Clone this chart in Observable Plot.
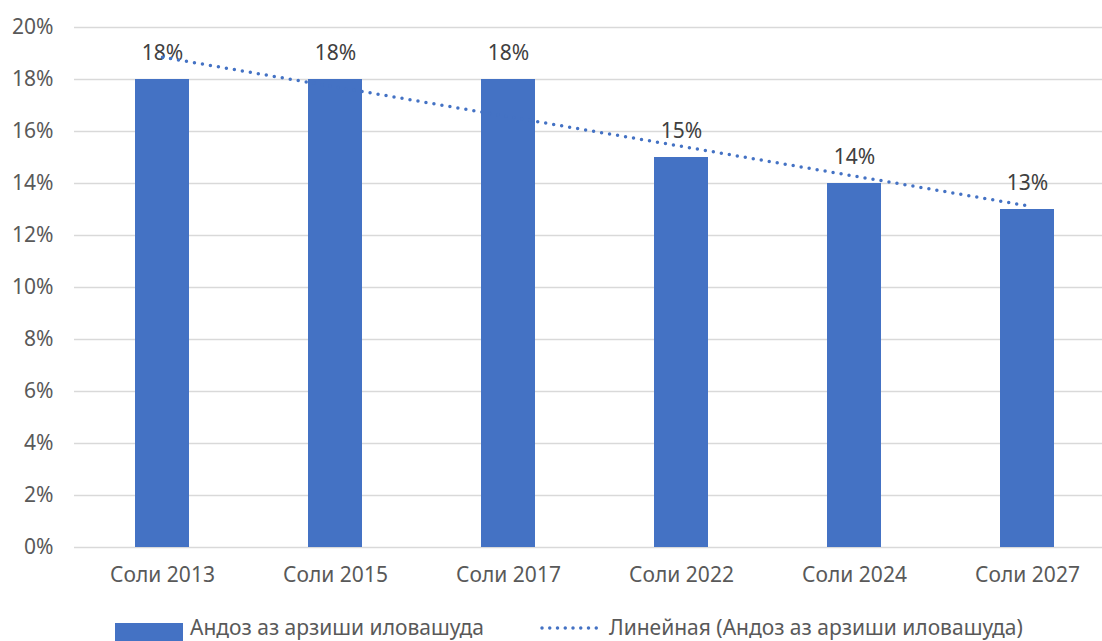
<!DOCTYPE html>
<html>
<head>
<meta charset="utf-8">
<script src="https://cdn.jsdelivr.net/npm/d3@7"></script>
<script src="https://cdn.jsdelivr.net/npm/@observablehq/plot@0.6"></script>
<style>
  html, body { margin: 0; padding: 0; background: #fff; }
  body { width: 1102px; height: 641px; overflow: hidden; position: relative; font-family: "Noto Sans", sans-serif; }
  #legend { position: absolute; left: 0; top: 605px; width: 1102px; height: 36px; color: #595959; font-size: 21px; }
  .sw-bar { position: absolute; left: 115px; top: 18px; width: 68px; height: 18px; background: #4472C4; }
  .lbl { position: absolute; top: 9px; line-height: 26px; white-space: nowrap; }
  .sw-line { position: absolute; left: 540px; top: 15px; }
</style>
</head>
<body>
<div id="chart"></div>
<div id="legend">
  <div class="sw-bar"></div>
  <div class="lbl" id="l1" style="left:190px"></div>
  <svg class="sw-line" width="68" height="16"><line x1="2" y1="8" x2="64" y2="8" stroke="#4472C4" stroke-width="3.5" stroke-linecap="round" stroke-dasharray="0,7.75"/></svg>
  <div class="lbl" id="l2" style="left:609px"></div>
</div>
<script>
const categories = ["Соли 2013", "Соли 2015", "Соли 2017", "Соли 2022", "Соли 2024", "Соли 2027"];
const values = [0.18, 0.18, 0.18, 0.15, 0.14, 0.13];
const yTicks = [0, 0.02, 0.04, 0.06, 0.08, 0.10, 0.12, 0.14, 0.16, 0.18, 0.20];
const seriesName = "Андоз аз арзиши иловашуда";
const trendName = "Линейная (Андоз аз арзиши иловашуда)";

document.getElementById("l1").textContent = seriesName;
document.getElementById("l2").textContent = trendName;

const data = categories.map((c, i) => ({cat: c, value: values[i], i}));

// linear trendline (least squares over category index), as Excel does
const mx = d3.mean(data, d => d.i), my = d3.mean(values);
const slope = d3.sum(data, d => (d.i - mx) * (d.value - my)) / d3.sum(data, d => (d.i - mx) ** 2);
const intercept = my - slope * mx;
const trend = data.map(d => ({cat: d.cat, value: intercept + slope * d.i}));

const pct = d3.format(".0%");

const chart = Plot.plot({
  width: 1102,
  height: 605,
  marginLeft: 74,
  marginRight: 0,
  marginTop: 27,
  marginBottom: 58,
  style: {fontFamily: "'Noto Sans', sans-serif", fontSize: "21px", color: "#595959", background: "#fff"},
  x: {domain: categories, range: [74, 1114], paddingInner: 0.69, paddingOuter: 0.345, label: null},
  y: {domain: [0, 0.20], label: null},
  marks: [
    Plot.ruleY(yTicks, {stroke: "#d9d9d9", strokeWidth: 1.5}),
    Plot.axisY({ticks: yTicks, tickFormat: pct, tickSize: 0, tickPadding: 21, label: null, fill: "#595959", fontSize: 21}),
    Plot.axisX({tickSize: 0, tickPadding: 20, label: null, fill: "#595959", fontSize: 21}),
    Plot.barY(data, {x: "cat", y: "value", fill: "#4472C4"}),
    Plot.text(data, {x: "cat", y: "value", text: d => pct(d.value), dy: -26, fill: "#404040", fontSize: 21}),
    Plot.line(trend, {x: "cat", y: "value", stroke: "#4472C4", strokeWidth: 3.5, strokeLinecap: "round", strokeDasharray: "0,8.1"})
  ]
});
document.getElementById("chart").appendChild(chart);
</script>
</body>
</html>
